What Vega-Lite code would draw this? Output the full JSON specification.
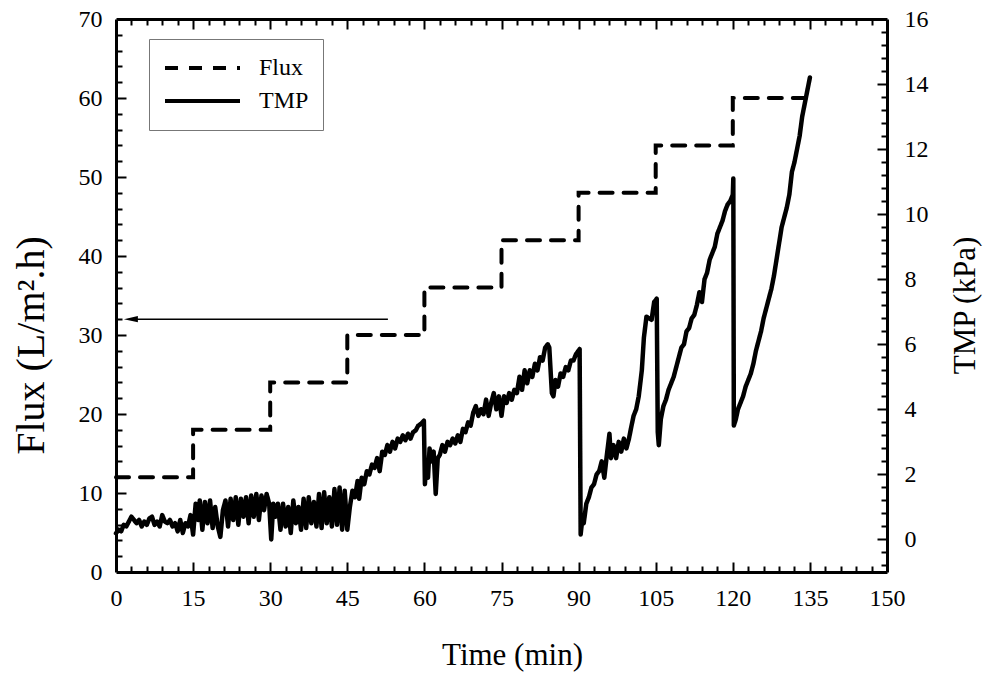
{
  "$schema": "https://vega.github.io/schema/vega-lite/v6.json",
  "width": 771,
  "height": 553,
  "autosize": {"type": "none"},
  "padding": {"left": 116, "top": 19, "right": 97, "bottom": 112},
  "background": "white",
  "config": {
    "font": "Liberation Serif",
    "view": {"stroke": null},
    "axis": {
      "labelFont": "Liberation Serif",
      "titleFont": "Liberation Serif",
      "labelFontSize": 24,
      "titleFontSize": 31,
      "titleFontWeight": "normal",
      "labelColor": "black",
      "titleColor": "black",
      "domainColor": "black",
      "tickColor": "black",
      "domainWidth": 3,
      "tickWidth": 2,
      "grid": false,
      "labelFlush": false,
      "labelOverlap": false
    }
  },
  "datasets": {
    "flux": [
      {"t": 0, "flux": 12}, {"t": 15, "flux": 18}, {"t": 30, "flux": 24}, {"t": 45, "flux": 30},
      {"t": 60, "flux": 36}, {"t": 75, "flux": 42}, {"t": 90, "flux": 48}, {"t": 105, "flux": 54},
      {"t": 120, "flux": 60}, {"t": 135, "flux": 60}
    ],
    "tmp": [
      {"t": 0, "tmp": 0.19}, {"t": 0.5, "tmp": 0.3}, {"t": 1, "tmp": 0.25}, {"t": 1.5, "tmp": 0.45},
      {"t": 2, "tmp": 0.4}, {"t": 2.5, "tmp": 0.55}, {"t": 3, "tmp": 0.7}, {"t": 3.5, "tmp": 0.6},
      {"t": 4, "tmp": 0.5}, {"t": 4.5, "tmp": 0.6}, {"t": 5, "tmp": 0.4}, {"t": 5.5, "tmp": 0.55},
      {"t": 6, "tmp": 0.45}, {"t": 6.5, "tmp": 0.65}, {"t": 7, "tmp": 0.7}, {"t": 7.5, "tmp": 0.45},
      {"t": 8, "tmp": 0.55}, {"t": 8.5, "tmp": 0.4}, {"t": 9, "tmp": 0.75}, {"t": 9.5, "tmp": 0.55},
      {"t": 10, "tmp": 0.5}, {"t": 10.5, "tmp": 0.6}, {"t": 11, "tmp": 0.4}, {"t": 11.5, "tmp": 0.5},
      {"t": 12, "tmp": 0.25}, {"t": 12.5, "tmp": 0.6}, {"t": 13, "tmp": 0.2}, {"t": 13.5, "tmp": 0.5},
      {"t": 14, "tmp": 0.4}, {"t": 14.5, "tmp": 0.75}, {"t": 15, "tmp": 0.15}, {"t": 15.5, "tmp": 1.1},
      {"t": 16, "tmp": 0.6}, {"t": 16.3, "tmp": 1.2}, {"t": 16.8, "tmp": 0.3}, {"t": 17.3, "tmp": 1.15},
      {"t": 17.8, "tmp": 0.5}, {"t": 18.3, "tmp": 1.2}, {"t": 18.8, "tmp": 0.35}, {"t": 19.3, "tmp": 1.0},
      {"t": 19.8, "tmp": 0.4}, {"t": 20.3, "tmp": 0.08}, {"t": 20.8, "tmp": 0.9}, {"t": 21.3, "tmp": 1.2},
      {"t": 21.8, "tmp": 0.4}, {"t": 22.3, "tmp": 1.25}, {"t": 22.8, "tmp": 0.6}, {"t": 23.3, "tmp": 1.3},
      {"t": 23.8, "tmp": 0.45}, {"t": 24.3, "tmp": 1.25}, {"t": 24.8, "tmp": 0.7}, {"t": 25.3, "tmp": 1.3},
      {"t": 25.8, "tmp": 0.5}, {"t": 26.3, "tmp": 1.35}, {"t": 26.8, "tmp": 0.7}, {"t": 27.3, "tmp": 1.4},
      {"t": 27.8, "tmp": 0.6}, {"t": 28.3, "tmp": 1.35}, {"t": 28.8, "tmp": 0.9}, {"t": 29.3, "tmp": 1.4},
      {"t": 29.8, "tmp": 1.1}, {"t": 30.2, "tmp": 0.0}, {"t": 30.6, "tmp": 1.1}, {"t": 31, "tmp": 0.7},
      {"t": 31.5, "tmp": 1.1}, {"t": 32, "tmp": 0.3}, {"t": 32.5, "tmp": 1.1}, {"t": 33, "tmp": 0.4},
      {"t": 33.5, "tmp": 1.0}, {"t": 34, "tmp": 0.2}, {"t": 34.5, "tmp": 1.2}, {"t": 35, "tmp": 0.5},
      {"t": 35.5, "tmp": 1.0}, {"t": 36, "tmp": 0.3}, {"t": 36.5, "tmp": 1.25}, {"t": 37, "tmp": 0.35},
      {"t": 37.5, "tmp": 1.3}, {"t": 38, "tmp": 0.5}, {"t": 38.5, "tmp": 1.15}, {"t": 39, "tmp": 0.4},
      {"t": 39.5, "tmp": 1.4}, {"t": 40, "tmp": 0.35}, {"t": 40.5, "tmp": 1.45}, {"t": 41, "tmp": 0.5},
      {"t": 41.5, "tmp": 1.3}, {"t": 42, "tmp": 0.4}, {"t": 42.5, "tmp": 1.55}, {"t": 43, "tmp": 0.45},
      {"t": 43.5, "tmp": 1.6}, {"t": 44, "tmp": 0.3}, {"t": 44.5, "tmp": 1.5}, {"t": 45, "tmp": 0.3},
      {"t": 45.5, "tmp": 1.0}, {"t": 46, "tmp": 1.5}, {"t": 46.5, "tmp": 1.3}, {"t": 47, "tmp": 1.8},
      {"t": 47.3, "tmp": 1.25}, {"t": 47.8, "tmp": 1.9}, {"t": 48.3, "tmp": 1.7}, {"t": 48.8, "tmp": 2.1},
      {"t": 49.3, "tmp": 2.0}, {"t": 49.8, "tmp": 2.3}, {"t": 50.3, "tmp": 2.2}, {"t": 50.8, "tmp": 2.5},
      {"t": 51.3, "tmp": 2.1}, {"t": 51.8, "tmp": 2.7}, {"t": 52.3, "tmp": 2.6}, {"t": 52.8, "tmp": 2.9},
      {"t": 53.3, "tmp": 2.7}, {"t": 53.8, "tmp": 3.0}, {"t": 54.3, "tmp": 2.8}, {"t": 54.8, "tmp": 3.1},
      {"t": 55.3, "tmp": 3.0}, {"t": 55.8, "tmp": 3.2}, {"t": 56.3, "tmp": 3.05}, {"t": 56.8, "tmp": 3.25},
      {"t": 57.3, "tmp": 3.1}, {"t": 57.8, "tmp": 3.3}, {"t": 58.3, "tmp": 3.35}, {"t": 58.8, "tmp": 3.5},
      {"t": 59.3, "tmp": 3.55}, {"t": 59.9, "tmp": 3.65}, {"t": 60.1, "tmp": 1.7}, {"t": 60.4, "tmp": 2.4},
      {"t": 60.7, "tmp": 1.9}, {"t": 61, "tmp": 2.8}, {"t": 61.4, "tmp": 2.4}, {"t": 61.8, "tmp": 2.7},
      {"t": 62.2, "tmp": 1.4}, {"t": 62.6, "tmp": 2.5}, {"t": 63, "tmp": 2.6}, {"t": 63.5, "tmp": 2.9},
      {"t": 64, "tmp": 2.7}, {"t": 64.5, "tmp": 3.0}, {"t": 65, "tmp": 2.9}, {"t": 65.5, "tmp": 3.1},
      {"t": 66, "tmp": 2.95}, {"t": 66.5, "tmp": 3.2}, {"t": 67, "tmp": 3.0}, {"t": 67.5, "tmp": 3.4},
      {"t": 68, "tmp": 3.3}, {"t": 68.5, "tmp": 3.6}, {"t": 69, "tmp": 3.5}, {"t": 69.5, "tmp": 3.9},
      {"t": 70, "tmp": 4.1}, {"t": 70.5, "tmp": 3.8}, {"t": 71, "tmp": 4.0}, {"t": 71.5, "tmp": 3.85},
      {"t": 72, "tmp": 4.3}, {"t": 72.5, "tmp": 3.8}, {"t": 73, "tmp": 4.2}, {"t": 73.5, "tmp": 4.5},
      {"t": 74, "tmp": 4.0}, {"t": 74.5, "tmp": 4.4}, {"t": 75, "tmp": 3.8}, {"t": 75.5, "tmp": 4.4},
      {"t": 76, "tmp": 4.2}, {"t": 76.5, "tmp": 4.5}, {"t": 77, "tmp": 4.3}, {"t": 77.5, "tmp": 4.6},
      {"t": 78, "tmp": 4.5}, {"t": 78.5, "tmp": 5.0}, {"t": 79, "tmp": 4.6}, {"t": 79.5, "tmp": 5.2},
      {"t": 80, "tmp": 4.8}, {"t": 80.5, "tmp": 5.2}, {"t": 81, "tmp": 5.0}, {"t": 81.5, "tmp": 5.4},
      {"t": 82, "tmp": 5.2}, {"t": 82.5, "tmp": 5.6}, {"t": 83, "tmp": 5.5}, {"t": 83.5, "tmp": 5.9},
      {"t": 84, "tmp": 6.0}, {"t": 84.3, "tmp": 5.9}, {"t": 84.8, "tmp": 4.5}, {"t": 85.1, "tmp": 4.4},
      {"t": 85.5, "tmp": 4.9}, {"t": 86, "tmp": 4.7}, {"t": 86.5, "tmp": 5.1}, {"t": 87, "tmp": 5.0},
      {"t": 87.5, "tmp": 5.3}, {"t": 88, "tmp": 5.2}, {"t": 88.5, "tmp": 5.5}, {"t": 89, "tmp": 5.5},
      {"t": 89.5, "tmp": 5.7}, {"t": 90.2, "tmp": 5.85}, {"t": 90.4, "tmp": 0.15}, {"t": 90.7, "tmp": 0.6},
      {"t": 91, "tmp": 0.5}, {"t": 91.5, "tmp": 1.1}, {"t": 92, "tmp": 1.3}, {"t": 92.5, "tmp": 1.6},
      {"t": 93, "tmp": 1.7}, {"t": 93.5, "tmp": 2.0}, {"t": 94, "tmp": 2.1}, {"t": 94.5, "tmp": 2.4},
      {"t": 95, "tmp": 1.9}, {"t": 95.5, "tmp": 2.6}, {"t": 96, "tmp": 3.25}, {"t": 96.3, "tmp": 2.5},
      {"t": 96.8, "tmp": 2.9}, {"t": 97.3, "tmp": 2.5}, {"t": 97.8, "tmp": 3.0}, {"t": 98.3, "tmp": 2.7},
      {"t": 98.8, "tmp": 3.1}, {"t": 99.3, "tmp": 2.8}, {"t": 99.8, "tmp": 3.1}, {"t": 100.3, "tmp": 3.5},
      {"t": 100.7, "tmp": 3.8}, {"t": 101.2, "tmp": 4.0}, {"t": 101.7, "tmp": 4.4}, {"t": 102.3, "tmp": 5.2},
      {"t": 102.7, "tmp": 6.2}, {"t": 103.2, "tmp": 6.85}, {"t": 103.7, "tmp": 6.8}, {"t": 104.2, "tmp": 6.75},
      {"t": 104.7, "tmp": 7.3}, {"t": 105.2, "tmp": 7.4}, {"t": 105.4, "tmp": 3.3}, {"t": 105.6, "tmp": 2.9},
      {"t": 106, "tmp": 3.7}, {"t": 106.5, "tmp": 4.1}, {"t": 107, "tmp": 4.3}, {"t": 107.5, "tmp": 4.6},
      {"t": 108, "tmp": 4.8}, {"t": 108.5, "tmp": 5.0}, {"t": 109, "tmp": 5.3}, {"t": 109.5, "tmp": 5.6},
      {"t": 110, "tmp": 5.9}, {"t": 110.5, "tmp": 6.0}, {"t": 111, "tmp": 6.4}, {"t": 111.5, "tmp": 6.5},
      {"t": 112, "tmp": 6.8}, {"t": 112.5, "tmp": 6.9}, {"t": 113, "tmp": 7.2}, {"t": 113.5, "tmp": 7.6},
      {"t": 114, "tmp": 7.3}, {"t": 114.5, "tmp": 8.0}, {"t": 115, "tmp": 8.2}, {"t": 115.5, "tmp": 8.6},
      {"t": 116, "tmp": 8.8}, {"t": 116.5, "tmp": 9.0}, {"t": 117, "tmp": 9.4}, {"t": 117.5, "tmp": 9.6},
      {"t": 118, "tmp": 9.8}, {"t": 118.5, "tmp": 10.1}, {"t": 119, "tmp": 10.3}, {"t": 119.5, "tmp": 10.4},
      {"t": 120, "tmp": 10.6}, {"t": 120.1, "tmp": 11.1}, {"t": 120.2, "tmp": 3.5}, {"t": 120.6, "tmp": 3.7},
      {"t": 121, "tmp": 4.0}, {"t": 121.5, "tmp": 4.2}, {"t": 122, "tmp": 4.4}, {"t": 122.5, "tmp": 4.7},
      {"t": 123, "tmp": 4.9}, {"t": 123.5, "tmp": 5.1}, {"t": 124, "tmp": 5.4}, {"t": 124.5, "tmp": 5.8},
      {"t": 125, "tmp": 6.1}, {"t": 125.5, "tmp": 6.4}, {"t": 126, "tmp": 6.8}, {"t": 126.5, "tmp": 7.1},
      {"t": 127, "tmp": 7.4}, {"t": 127.5, "tmp": 7.7}, {"t": 128, "tmp": 8.1}, {"t": 128.5, "tmp": 8.6},
      {"t": 129, "tmp": 9.1}, {"t": 129.5, "tmp": 9.6}, {"t": 130, "tmp": 9.9}, {"t": 130.5, "tmp": 10.2},
      {"t": 131, "tmp": 10.6}, {"t": 131.5, "tmp": 11.3}, {"t": 132, "tmp": 11.6}, {"t": 132.5, "tmp": 12.0},
      {"t": 133, "tmp": 12.4}, {"t": 133.5, "tmp": 13.0}, {"t": 134, "tmp": 13.4}, {"t": 134.5, "tmp": 13.8},
      {"t": 135, "tmp": 14.2}
    ],
    "arrow": [{"t": 52.9, "flux": 32}, {"t": 2.5, "flux": 32}],
    "arrowhead": [{"t": 2.9, "flux": 32}]
  },
  "resolve": {"scale": {"x": "independent", "y": "independent"}},
  "layer": [
    {
      "data": {"name": "flux"},
      "mark": {"type": "line", "interpolate": "step-after", "strokeWidth": 4, "color": "black", "strokeCap": "round"},
      "encoding": {
        "x": {"field": "t", "type": "quantitative",
          "scale": {"domain": [0, 150], "nice": false, "zero": false},
          "axis": {"orient": "bottom", "values": [0, 15, 30, 45, 60, 75, 90, 105, 120, 135, 150],
            "ticks": false, "labelPadding": 14, "title": "Time (min)", "titleFont": "Liberation Serif",
            "titleBaseline": "alphabetic", "titleX": 396, "titleY": 92, "titleAlign": "center"}},
        "y": {"field": "flux", "type": "quantitative",
          "scale": {"domain": [0, 70], "nice": false, "zero": false},
          "axis": {"orient": "left", "values": [0, 10, 20, 30, 40, 50, 60, 70],
            "ticks": false, "labelPadding": 14, "title": "Flux (L/m².h)", "titleFont": "Liberation Serif",
            "titleFontSize": 40, "titleAngle": -90,
            "titleBaseline": "alphabetic", "titleX": -73, "titleY": 326, "titleAlign": "center"}},
        "strokeDash": {"datum": "Flux", "type": "nominal",
          "scale": {"domain": ["Flux", "TMP"], "range": [[13, 11], [1, 0]]},
          "legend": {"orient": "none", "legendX": 33, "legendY": 20, "title": null,
            "symbolType": "stroke", "symbolSize": 5625, "symbolStrokeWidth": 4, "symbolStrokeColor": "black",
            "clipHeight": 30, "rowPadding": 3, "padding": 14, "strokeColor": "#777",
            "labelFont": "Liberation Serif", "labelFontSize": 24, "labelColor": "black", "labelOffset": 17,
            "labelExpr": "datum.label + '\u00a0\u00a0'"}}
      }
    },
    {
      "data": {"name": "tmp"},
      "mark": {"type": "line", "strokeWidth": 4.5, "color": "black", "strokeJoin": "round", "strokeCap": "round"},
      "encoding": {
        "x": {"field": "t", "type": "quantitative",
          "scale": {"domain": [0, 150], "nice": false, "zero": false},
          "axis": {"orient": "top", "values": [0, 150], "ticks": false, "labels": false, "title": null}},
        "y": {"field": "tmp", "type": "quantitative",
          "scale": {"domain": [-1, 16], "nice": false, "zero": false},
          "axis": {"orient": "right", "values": [0, 2, 4, 6, 8, 10, 12, 14, 16],
            "ticks": false, "labelPadding": 17, "title": "TMP (kPa)", "titleFont": "Liberation Serif", "titleAngle": -90,
            "titleBaseline": "alphabetic", "titleX": 87, "titleY": 286, "titleAlign": "center"}},
        "strokeDash": {"datum": "TMP", "type": "nominal"}
      }
    },
    {
      "data": {"name": "flux"},
      "mark": {"type": "line", "strokeOpacity": 0},
      "encoding": {
        "x": {"field": "t", "type": "quantitative",
          "scale": {"domain": [0, 150], "nice": false, "zero": false},
          "axis": {"orient": "bottom", "values": [15, 30, 45, 60, 75, 90, 105, 120, 135],
            "ticks": true, "tickSize": 10, "offset": -10, "labels": false, "domain": false, "title": null}},
        "y": {"field": "flux", "type": "quantitative",
          "scale": {"domain": [0, 70], "nice": false, "zero": false},
          "axis": {"orient": "left", "values": [10, 20, 30, 40, 50, 60],
            "ticks": true, "tickSize": 10, "offset": -10, "labels": false, "domain": false, "title": null}}
      }
    },
    {
      "data": {"name": "tmp"},
      "mark": {"type": "line", "strokeOpacity": 0},
      "encoding": {
        "x": {"field": "t", "type": "quantitative",
          "scale": {"domain": [0, 150], "nice": false, "zero": false},
          "axis": {"orient": "top", "values": [15, 30, 45, 60, 75, 90, 105, 120, 135],
            "ticks": true, "tickSize": 10, "offset": -10, "labels": false, "domain": false, "title": null}},
        "y": {"field": "tmp", "type": "quantitative",
          "scale": {"domain": [-1, 16], "nice": false, "zero": false},
          "axis": {"orient": "right", "values": [0, 2, 4, 6, 8, 10, 12, 14],
            "ticks": true, "tickSize": 10, "offset": -10, "labels": false, "domain": false, "title": null}}
      }
    },
    {
      "data": {"name": "flux"},
      "mark": {"type": "line", "strokeOpacity": 0},
      "encoding": {
        "x": {"field": "t", "type": "quantitative",
          "scale": {"domain": [0, 150], "nice": false, "zero": false},
          "axis": {"orient": "bottom", "values": [3, 6, 9, 12, 18, 21, 24, 27, 33, 36, 39, 42, 48, 51, 54, 57, 63, 66, 69, 72, 78, 81, 84, 87, 93, 96, 99, 102, 108, 111, 114, 117, 123, 126, 129, 132, 138, 141, 144, 147],
            "ticks": true, "tickSize": 6, "offset": -6, "labels": false, "domain": false, "title": null}},
        "y": {"field": "flux", "type": "quantitative",
          "scale": {"domain": [0, 70], "nice": false, "zero": false},
          "axis": {"orient": "left", "values": [2, 4, 6, 8, 12, 14, 16, 18, 22, 24, 26, 28, 32, 34, 36, 38, 42, 44, 46, 48, 52, 54, 56, 58, 62, 64, 66, 68],
            "ticks": true, "tickSize": 6, "offset": -6, "labels": false, "domain": false, "title": null}}
      }
    },
    {
      "data": {"name": "tmp"},
      "mark": {"type": "line", "strokeOpacity": 0},
      "encoding": {
        "x": {"field": "t", "type": "quantitative",
          "scale": {"domain": [0, 150], "nice": false, "zero": false},
          "axis": {"orient": "top", "values": [3, 6, 9, 12, 18, 21, 24, 27, 33, 36, 39, 42, 48, 51, 54, 57, 63, 66, 69, 72, 78, 81, 84, 87, 93, 96, 99, 102, 108, 111, 114, 117, 123, 126, 129, 132, 138, 141, 144, 147],
            "ticks": true, "tickSize": 6, "offset": -6, "labels": false, "domain": false, "title": null}},
        "y": {"field": "tmp", "type": "quantitative",
          "scale": {"domain": [-1, 16], "nice": false, "zero": false},
          "axis": {"orient": "right", "values": [-0.8, -0.4, 0.4, 0.8, 1.2, 1.6, 2.4, 2.8, 3.2, 3.6, 4.4, 4.8, 5.2, 5.6, 6.4, 6.8, 7.2, 7.6, 8.4, 8.8, 9.2, 9.6, 10.4, 10.8, 11.2, 11.6, 12.4, 12.8, 13.2, 13.6, 14.4, 14.8, 15.2, 15.6],
            "ticks": true, "tickSize": 6, "offset": -6, "labels": false, "domain": false, "title": null}}
      }
    },
    {
      "data": {"name": "arrow"},
      "mark": {"type": "line", "strokeWidth": 1.5, "color": "black"},
      "encoding": {
        "x": {"field": "t", "type": "quantitative", "scale": {"domain": [0, 150], "nice": false, "zero": false}, "axis": null},
        "y": {"field": "flux", "type": "quantitative", "scale": {"domain": [0, 70], "nice": false, "zero": false}, "axis": null}
      }
    },
    {
      "data": {"name": "arrowhead"},
      "mark": {"type": "point", "shape": "M-1,0L1,-0.45L1,0.45Z", "size": 196, "filled": true, "color": "black", "opacity": 1},
      "encoding": {
        "x": {"field": "t", "type": "quantitative", "scale": {"domain": [0, 150], "nice": false, "zero": false}, "axis": null},
        "y": {"field": "flux", "type": "quantitative", "scale": {"domain": [0, 70], "nice": false, "zero": false}, "axis": null}
      }
    }
  ]
}
